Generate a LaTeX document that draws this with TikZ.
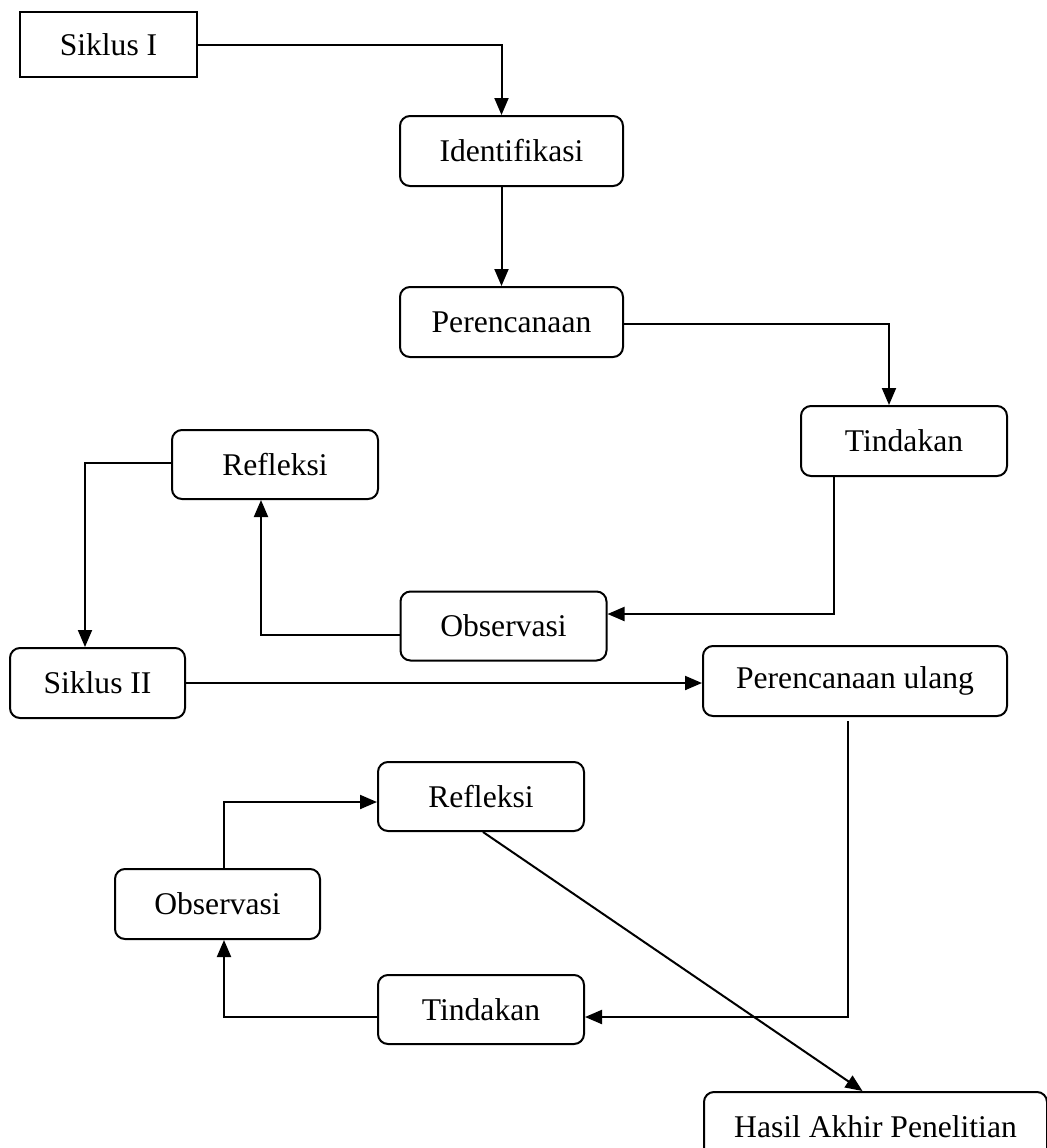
\documentclass[tikz,border=0pt]{standalone}
\usepackage{fontspec}
\setmainfont{Liberation Serif}
\usetikzlibrary{calc}
\usetikzlibrary{arrows.meta}

\begin{document}
\begin{tikzpicture}[x=0.5pt, y=-0.5pt,
        S/.style={draw, line width=1pt, minimum height=35pt, inner sep=2pt,
            font=\fontsize{15.8}{19}\selectfont},
        R/.style={S, rounded corners=5pt},
        L/.style={line width=1pt},
        A/.style={L, -{Triangle[length=8.5pt,width=7pt]}}
    ]
    \useasboundingbox (0,0) rectangle (1047,1148);

    % siklus I
    \node[S, minimum width=88.5pt, minimum height=32.5pt] (S1) at (108.5,44.5) {Siklus I};
    \node[R, minimum width=111.5pt] (I1) at (511.5,151) {Identifikasi};
    \node[R, minimum width=111.5pt] (P1) at (511.5,322) {Perencanaan};
    \node[R, minimum width=103pt] (T1) at (904,441) {Tindakan};
    \node[R, minimum width=103pt, minimum height=34.5pt] (O1) at (503.5,626) {Observasi};
    \node[R, minimum width=103pt, minimum height=34.5pt] (R1) at (275,464.5) {Refleksi};

    % siklus II
    \node[R, minimum width=87.5pt] (S2) at (97.5,683) {Siklus II};
    \node[R, minimum width=152pt] (P2) at (855,681) {Perencanaan ulang};
    \node[R, minimum width=103pt, minimum height=34.5pt] (T2) at (481,1009.5) {Tindakan};
    \node[R, minimum width=102.5pt] (O2) at (217.5,904) {Observasi};
    \node[R, minimum width=103pt, minimum height=34.5pt] (R2) at (481,796.5) {Refleksi};
    \node[R, minimum width=171.5pt] (H) at (875.5,1127) {Hasil Akhir Penelitian};

    \draw[A] (S1.east) -| ([xshift=-5pt]I1.north);
    \draw[A] ([xshift=-5pt]I1.south) -- ([xshift=-5pt]P1.north);
    \draw[A] ([yshift=-1pt]P1.east) -| ([xshift=-7.5pt]T1.north);
    \draw[A] ([xshift=-35pt]T1.south) |- ([yshift=6pt]O1.east);
    \draw[A] ([yshift=-4.5pt]O1.west) -| ([xshift=-7pt]R1.south);
    \draw[A] ([yshift=0.75pt]R1.west) -| ([xshift=-6.25pt]S2.north);
    \draw[A] (S2.east) -- (S2.east -| P2.west);
    \draw[A] ([xshift=-3.5pt,yshift=-2pt]P2.south) |- ([yshift=-3.75pt]T2.east);
    \draw[A] ([yshift=-3.75pt]T2.west) -| ([xshift=3.25pt]O2.south);
    \draw[A] ([xshift=3.25pt]O2.north) |- ([yshift=-2.75pt]R2.west);
    \draw[A] ([xshift=1pt]R2.south) -- ([xshift=-6.5pt]H.north);
\end{tikzpicture}
\end{document}
